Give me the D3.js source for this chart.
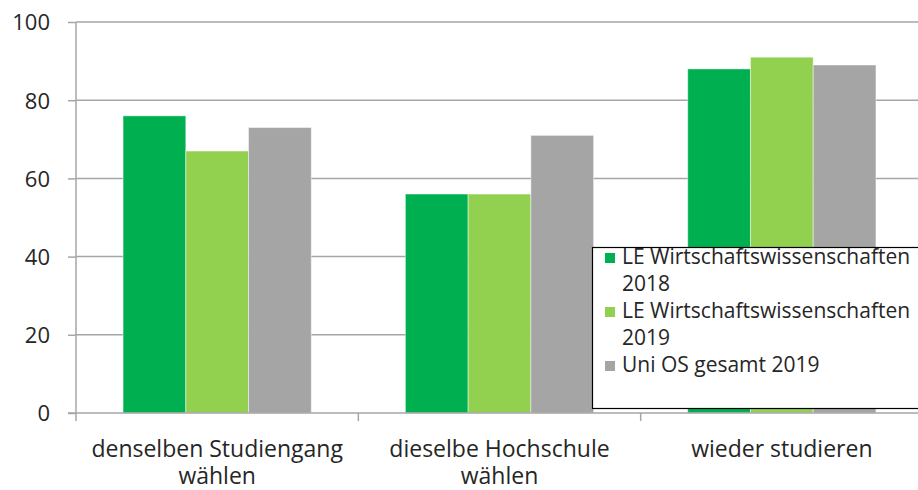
<!DOCTYPE html>
<html>
<head>
<meta charset="utf-8">
<script src="https://cdn.jsdelivr.net/npm/d3@7"></script>
<style>
    body { margin: 0; background: #fff; }
    svg text { font-family: "Open Sans", sans-serif; fill: #262626; }
</style>
</head>
<body>
<div id="chart"></div>
<script>
// categories (two-line labels) and series
var categories = ["denselben Studiengang wählen", "dieselbe Hochschule wählen", "wieder studieren"];
var categoryLines = [["denselben Studiengang", "wählen"], ["dieselbe Hochschule", "wählen"], ["wieder studieren"]];
var seriesNames = ["LE Wirtschaftswissenschaften 2018", "LE Wirtschaftswissenschaften 2019", "Uni OS gesamt 2019"];
var legendLines = [["LE Wirtschaftswissenschaften", "2018"], ["LE Wirtschaftswissenschaften", "2019"], ["Uni OS gesamt 2019"]];
var seriesColors = ["#00b050", "#92d050", "#a5a5a5"];
var le2018 = [76, 56, 88];
var le2019 = [67, 56, 91];
var uniOS2019 = [73, 71, 89];
var yTicks = [0, 20, 40, 60, 80, 100];

var width = 918,
    height = 490,
    plotLeft = 76,
    plotRight = 923,
    plotTop = 22,
    plotBottom = 413;

var seriesValues = [le2018, le2019, uniOS2019];
var rows = categories.map(function(c, i) {
    return {cat : c, values : seriesValues.map(function(s, j) { return {series : seriesNames[j], value : s[i]}; })};
});

var svg = d3.select("#chart").append("svg")
            .attr("width", width)
            .attr("height", height);

var x0 = d3.scaleBand()
           .domain(categories)
           .range([plotLeft, plotRight])
           .paddingInner(1 / 3)
           .paddingOuter(1 / 6);

var x1 = d3.scaleBand()
           .domain(seriesNames)
           .range([0, x0.bandwidth()]);

var y = d3.scaleLinear()
          .domain([0, 100])
          .range([plotBottom, plotTop]);

var color = d3.scaleOrdinal().domain(seriesNames).range(seriesColors);

// gridlines + y ticks
var yAxis = svg.append("g")
               .attr("transform", "translate(" + plotLeft + ",0)")
               .call(d3.axisLeft(y).tickValues(yTicks).tickSize(8).tickPadding(18));
yAxis.select(".domain").remove();
yAxis.selectAll(".tick line").attr("stroke", "#a6a6a6").attr("stroke-width", 1.5);
yAxis.selectAll(".tick text").style("font-size", "22px").attr("dy", "0.36em");

svg.append("g")
   .selectAll("line")
   .data(yTicks.filter(function(d) { return d > 0; }))
   .enter().append("line")
   .attr("x1", plotLeft)
   .attr("x2", width)
   .attr("y1", function(d) { return y(d); })
   .attr("y2", function(d) { return y(d); })
   .attr("stroke", "#a6a6a6")
   .attr("stroke-width", 1.5);

// bars
var groups = svg.append("g")
                .selectAll(".catGroup")
                .data(rows)
                .enter().append("g")
                .attr("class", "catGroup")
                .attr("transform", function(d) { return "translate(" + x0(d.cat) + ",0)"; });

groups.selectAll("rect")
      .data(function(d) { return d.values; })
      .enter().append("rect")
      .attr("x", function(d) { return x1(d.series); })
      .attr("y", function(d) { return y(d.value); })
      .attr("width", x1.bandwidth())
      .attr("height", function(d) { return y(0) - y(d.value); })
      .style("fill", function(d) { return color(d.series); })
      .style("stroke", "rgba(255,255,255,0.45)")
      .style("stroke-width", 1);

// x axis line and category separators
svg.append("line")
   .attr("x1", plotLeft - 8)
   .attr("x2", width)
   .attr("y1", plotBottom)
   .attr("y2", plotBottom)
   .attr("stroke", "#a6a6a6")
   .attr("stroke-width", 1.5);

svg.append("line")
   .attr("x1", plotLeft)
   .attr("x2", plotLeft)
   .attr("y1", plotTop)
   .attr("y2", plotBottom + 8)
   .attr("stroke", "#a6a6a6")
   .attr("stroke-width", 1.5);

var step = x0.step();
svg.append("g")
   .selectAll("line")
   .data(categories)
   .enter().append("line")
   .attr("x1", function(d) { return x0(d) + x0.bandwidth() + step * x0.paddingInner() / 2; })
   .attr("x2", function(d) { return x0(d) + x0.bandwidth() + step * x0.paddingInner() / 2; })
   .attr("y1", plotBottom)
   .attr("y2", plotBottom + 8)
   .attr("stroke", "#a6a6a6")
   .attr("stroke-width", 1.5);

// category labels, one text per line
categories.forEach(function(cat, i) {
    categoryLines[i].forEach(function(line, k) {
        svg.append("text")
           .attr("class", "catLabel")
           .attr("text-anchor", "middle")
           .attr("x", x0(cat) + x0.bandwidth() / 2)
           .attr("y", 457 + k * 27)
           .style("font-size", "23px")
           .text(line);
    });
});

// legend
var legend = svg.append("g").attr("transform", "translate(592,247)");
legend.append("rect")
      .attr("x", 0.5)
      .attr("y", 0.5)
      .attr("width", 400)
      .attr("height", 161)
      .style("fill", "#fff")
      .style("stroke", "#000")
      .style("stroke-width", 1.2);

var lineStep = 27,
    lineIndex = 0;
seriesNames.forEach(function(name, i) {
    var baseY = 17 + lineIndex * lineStep;
    legend.append("rect")
          .attr("x", 13)
          .attr("y", baseY - 11)
          .attr("width", 10)
          .attr("height", 10)
          .style("fill", color(name));
    legendLines[i].forEach(function(line, k) {
        legend.append("text")
              .attr("class", "legendRowText")
              .attr("x", 30)
              .attr("y", baseY + k * lineStep)
              .style("font-size", "21px")
              .text(line);
    });
    lineIndex += legendLines[i].length;
});
</script>
</body>
</html>
